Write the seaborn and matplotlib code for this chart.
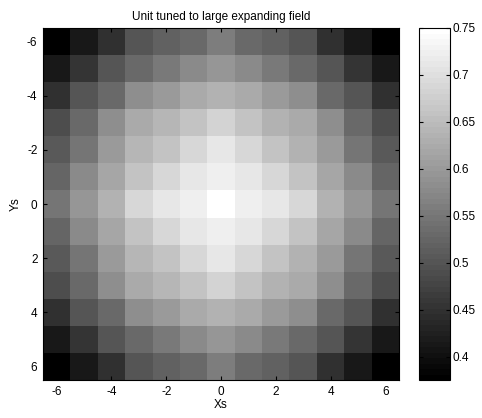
import numpy as np
import pandas as pd
import matplotlib
matplotlib.use("Agg")
import matplotlib.pyplot as plt
from matplotlib.colors import ListedColormap
import seaborn as sns

xs = [-6, -5, -4, -3, -2, -1, 0, 1, 2, 3, 4, 5, 6]
ys = [-6, -5, -4, -3, -2, -1, 0, 1, 2, 3, 4, 5, 6]

row_m6 = [0.375, 0.415, 0.450, 0.500, 0.519, 0.531, 0.557, 0.533, 0.518, 0.500, 0.450, 0.415, 0.375]
row_m5 = [0.415, 0.454, 0.500, 0.531, 0.556, 0.578, 0.593, 0.578, 0.556, 0.531, 0.500, 0.454, 0.415]
row_m4 = [0.450, 0.500, 0.531, 0.581, 0.599, 0.624, 0.638, 0.625, 0.600, 0.581, 0.531, 0.500, 0.450]
row_m3 = [0.488, 0.531, 0.581, 0.622, 0.641, 0.659, 0.684, 0.659, 0.638, 0.622, 0.581, 0.531, 0.488]
row_m2 = [0.507, 0.550, 0.599, 0.641, 0.662, 0.690, 0.709, 0.690, 0.662, 0.638, 0.599, 0.550, 0.507]
row_m1 = [0.525, 0.575, 0.618, 0.662, 0.687, 0.709, 0.726, 0.709, 0.687, 0.662, 0.618, 0.575, 0.525]
row_0 = [0.550, 0.593, 0.638, 0.690, 0.709, 0.726, 0.750, 0.726, 0.709, 0.690, 0.638, 0.593, 0.550]
row_p1 = [0.525, 0.575, 0.618, 0.662, 0.687, 0.709, 0.726, 0.709, 0.687, 0.662, 0.618, 0.575, 0.525]
row_p2 = [0.507, 0.550, 0.599, 0.641, 0.662, 0.690, 0.709, 0.690, 0.662, 0.638, 0.599, 0.550, 0.507]
row_p3 = [0.488, 0.531, 0.581, 0.622, 0.641, 0.659, 0.684, 0.659, 0.638, 0.622, 0.581, 0.531, 0.488]
row_p4 = [0.450, 0.500, 0.531, 0.581, 0.599, 0.624, 0.638, 0.625, 0.600, 0.581, 0.531, 0.500, 0.450]
row_p5 = [0.415, 0.454, 0.500, 0.531, 0.556, 0.578, 0.593, 0.578, 0.556, 0.531, 0.500, 0.454, 0.415]
row_p6 = [0.375, 0.415, 0.450, 0.500, 0.519, 0.531, 0.557, 0.533, 0.518, 0.500, 0.450, 0.415, 0.375]

tick_vals = [-6, -4, -2, 0, 2, 4, 6]
cbar_ticks = [0.4, 0.45, 0.5, 0.55, 0.6, 0.65, 0.7, 0.75]

data = pd.DataFrame([row_m6, row_m5, row_m4, row_m3, row_m2, row_m1, row_0,
                     row_p1, row_p2, row_p3, row_p4, row_p5, row_p6],
                    index=ys, columns=xs)

plt.rcParams['font.family'] = ['Liberation Sans', 'DejaVu Sans']

fig = plt.figure(figsize=(4.82, 4.18), dpi=100)
ax = fig.add_axes([43/482, 1-380/418, 356/482, 352/418])
cax = fig.add_axes([419/482, 1-380/418, 31/482, 352/418])

cmap = ListedColormap(plt.cm.gray(np.linspace(0, 1, 64)))

sns.heatmap(data, ax=ax, cbar_ax=cax, cmap=cmap, vmin=0.375, vmax=0.75,
            xticklabels=False, yticklabels=False, square=False)

pos = [xs.index(v) + 0.5 for v in tick_vals]
ax.set_xticks(pos)
ax.set_xticklabels([str(v) for v in tick_vals])
ax.set_yticks(pos)
ax.set_yticklabels([str(v) for v in tick_vals], rotation=0)
ax.tick_params(direction='in', length=3, width=0.8, top=True, right=True,
               labelsize=8.5, colors='black', pad=4)
for s in ax.spines.values():
    s.set_visible(True)
    s.set_linewidth(0.8)
    s.set_color('black')
ax.set_xlabel('Xs', fontsize=8.5, labelpad=1)
ax.set_ylabel('Ys', fontsize=8.5, labelpad=4)
ax.set_title('Unit tuned to large expanding field', fontsize=8.5, pad=6)

cb = ax.collections[0].colorbar
cb.set_ticks(cbar_ticks)
cb.set_ticklabels(['0.4', '0.45', '0.5', '0.55', '0.6', '0.65', '0.7', '0.75'])
cb.outline.set_visible(True)
cb.outline.set_linewidth(0.8)
cb.outline.set_edgecolor('black')
cax.tick_params(direction='in', length=3, width=0.8, left=True, right=True,
                labelsize=8.5, pad=2)

fig.savefig('out.png', dpi=100)
